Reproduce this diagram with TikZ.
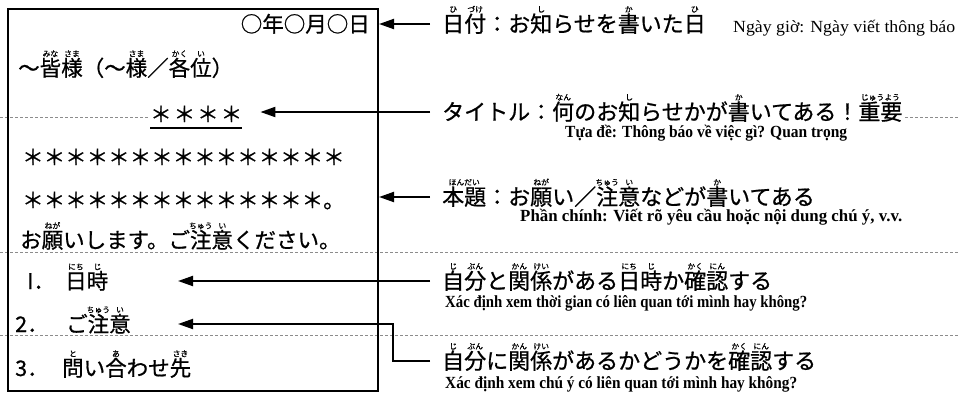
\documentclass[tikz,border=0pt]{standalone}
\usepackage{fontspec}
\newfontfamily\jpf[FakeBold=0.8]{Noto Sans CJK JP}
\newfontfamily\vnf{Liberation Serif}
\usetikzlibrary{arrows.meta,calc}
\newcommand\rbfont{\fontsize{7.8}{8}\selectfont}
\newcommand\rbx[2]{\leavevmode\setbox0=\hbox{#1}\rlap{\hbox to \wd0{\hss\raisebox{0.9em}{\rbfont #2}\hss}}\box0}
\newcommand\vnfit[2]{\resizebox{#1}{\height}{#2}}
\begin{document}
\begin{tikzpicture}[x=1pt,y=-1pt,
  jpt/.style={inner sep=0pt, anchor=base west, font=\jpf\fontsize{21.5}{24}\selectfont},
  jpr/.style={inner sep=0pt, anchor=base west, font=\jpf\fontsize{22}{24}\selectfont},
  vnt/.style={inner sep=0pt, anchor=base west, font=\vnf\bfseries\fontsize{17}{18}\selectfont},
  arr/.style={line width=2pt, -{Triangle[length=15pt,width=10pt]}},
  scan/.style={black!45, line width=0.6pt, dash pattern=on 3pt off 2pt}]
\useasboundingbox (0,0) rectangle (959,400);
% faint ruled lines of the scan
\draw[scan] (0,117) -- (148,117);
\draw[scan] (905,117) -- (959,117);
\draw[scan] (0,252) -- (959,252);
\draw[scan] (0,335) -- (959,335);
% the notice
\node[draw, line width=2pt, minimum width=370pt, minimum height=382pt, inner sep=0pt, anchor=north west] (box) at (7,8) {};
\node[jpt, anchor=base east] (date) at (370,32) {○年○月○日};
\node[jpt] (dear) at (18,76) {～\rbx{皆}{みな}\rbx{様}{さま}（～\rbx{様}{さま}／\rbx{各}{かく}\rbx{位}{い}）};
\node[jpt] (title) at (150,122) {＊\kern2pt＊\kern2pt＊\kern2pt＊};
\draw[line width=1.5pt] ([yshift=-6pt]title.base west) -- ([yshift=-6pt]title.base east);
\node[jpt] (body1) at (22,165) {＊＊＊＊＊＊＊＊＊＊＊＊＊＊＊};
\node[jpt] (body2) at (22,208) {＊＊＊＊＊＊＊＊＊＊＊＊＊＊。};
\node[jpt] (req) at (20,248) {お\rbx{願}{ねが}いします。ご\rbx{注}{ちゅう}\rbx{意}{い}ください。};
\node[jpt] (it1) at (27,289) {\makebox[38pt][l]{I．}\rbx{日}{にち}\rbx{時}{じ}};
\node[jpt] (it2) at (15,332) {\makebox[51pt][l]{2．}ご\rbx{注}{ちゅう}\rbx{意}{い}};
\node[jpt] (it3) at (15,376) {\makebox[47pt][l]{3．}\rbx{問}{と}い\rbx{合}{あ}わせ\rbx{先}{さき}};
% explanations
\node[jpr] (r1) at (442,32) {\rbx{日}{ひ}\rbx{付}{づけ}：お\rbx{知}{し}らせを\rbx{書}{か}いた\rbx{日}{ひ}};
\node[vnt, font=\vnf\fontsize{17}{18}\selectfont] (r1v) at (733,32) {\vnfit{222pt}{Ngày giờ: Ngày viết thông báo}};
\node[jpr] (r2) at (442,120) {タイトル：\rbx{何}{なん}のお\rbx{知}{し}らせかが\rbx{書}{か}いてある！\rbx{重要}{じゅうよう}};
\node[vnt] (r2v) at (565,137) {\vnfit{282pt}{Tựa đề: Thông báo về việc gì? Quan trọng}};
\node[jpr] (r3) at (442,205) {\rbx{本題}{ほんだい}：お\rbx{願}{ねが}い／\rbx{注}{ちゅう}\rbx{意}{い}などが\rbx{書}{か}いてある};
\node[vnt] (r3v) at (520,221) {\vnfit{382pt}{Phần chính: Viết rõ yêu cầu hoặc nội dung chú ý, v.v.}};
\node[jpr] (r4) at (442,289) {\rbx{自}{じ}\rbx{分}{ぶん}と\rbx{関}{かん}\rbx{係}{けい}がある\rbx{日}{にち}\rbx{時}{じ}か\rbx{確}{かく}\rbx{認}{にん}する};
\node[vnt] (r4v) at (445,307) {\vnfit{362pt}{Xác định xem thời gian có liên quan tới mình hay không?}};
\node[jpr] (r5) at (442,369) {\rbx{自}{じ}\rbx{分}{ぶん}に\rbx{関}{かん}\rbx{係}{けい}があるかどうかを\rbx{確}{かく}\rbx{認}{にん}する};
\node[vnt] (r5v) at (445,388) {\vnfit{352pt}{Xác định xem chú ý có liên quan tới mình hay không?}};
% connectors
\coordinate (a1) at ([xshift=-12pt,yshift=8pt]r1.base west);
\coordinate (a2) at ([xshift=-12pt,yshift=8pt]r2.base west);
\coordinate (a3) at ([xshift=-12pt,yshift=8pt]r3.base west);
\coordinate (a4) at ([xshift=-12pt,yshift=8pt]r4.base west);
\coordinate (a5) at ([xshift=-12pt,yshift=8pt]r5.base west);
\coordinate (t2) at ($(title.east |- a2)+(18,0)$);
\coordinate (t4) at (178,281);
\coordinate (t5) at (178,324);
\coordinate (k5) at (393,0);
\draw[arr] (a1) -- (a1 -| box.east);
\draw[arr] (a2) -- (t2);
\draw[arr] (a3) -- (a3 -| box.east);
\draw[arr] (a4) -- (t4 |- a4);
\draw[arr] (a5) -- (a5 -| k5) -- (t5 -| k5) -- (t5);
\end{tikzpicture}
\end{document}
